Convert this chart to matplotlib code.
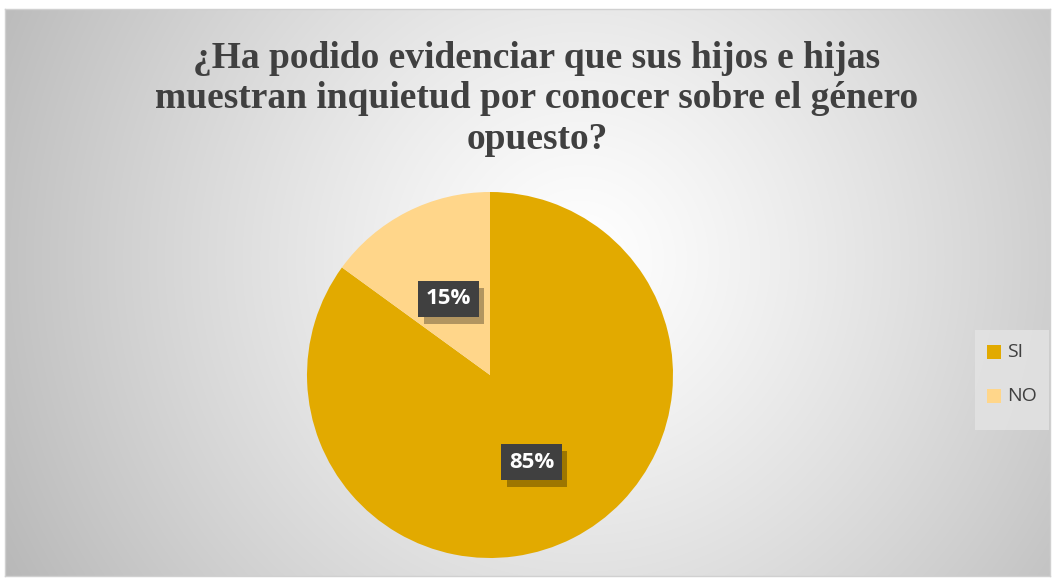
import numpy as np
import matplotlib
matplotlib.use("Agg")
import matplotlib.pyplot as plt
import matplotlib.patheffects as pe
from matplotlib.patches import Rectangle

categories = ["SI", "NO"]
values = [85, 15]
labels = ["85%", "15%"]
colors = ["#E2AA00", "#FFD68A"]
title = "¿Ha podido evidenciar que sus hijos e hijas\nmuestran inquietud por conocer sobre el género\nopuesto?"

W, H = 1054, 580
fig = plt.figure(figsize=(W / 100, H / 100), dpi=100)
fig.patch.set_facecolor("white")

# background chart area with radial gradient
x0, y0, x1, y1 = 5, 9, 1050, 576
bg = fig.add_axes([x0 / W, 1 - y1 / H, (x1 - x0) / W, (y1 - y0) / H])
bw, bh = x1 - x0, y1 - y0
yy, xx = np.mgrid[0:bh, 0:bw]
cx, cy = 580 - x0, 260 - y0
d = np.sqrt((xx - cx) ** 2 + (yy - cy) ** 2) / 600.0
d = np.clip(d, 0, 1.1)
g = 1.0 - 0.25 * d ** 1.2
img = np.dstack([g, g, g])
bg.imshow(img, aspect="auto", extent=[0, bw, bh, 0], interpolation="bilinear")
bg.set_xlim(0, bw)
bg.set_ylim(bh, 0)
bg.set_xticks([])
bg.set_yticks([])
for s in bg.spines.values():
    s.set_color("#d0d0d0")
    s.set_linewidth(1)

fig.text(537 / W, 1 - 99 / H, title, ha="center", va="center",
         fontsize=27, fontweight="bold", family="Liberation Serif",
         color="#404040", linespacing=1.2)

# pie
R = 183
pcx, pcy = 490, 375
ax = fig.add_axes([(pcx - R) / W, 1 - (pcy + R) / H, 2 * R / W, 2 * R / H])
wedges, _ = ax.pie(values, colors=colors, startangle=90, counterclock=False,
                   radius=1.0, wedgeprops=dict(linewidth=0))
ax.set_xlim(-1, 1)
ax.set_ylim(-1, 1)
ax.set_aspect("equal")

start = 90.0
total = sum(values)
for v, lab in zip(values, labels):
    ang = np.deg2rad(start - 360 * v / total / 2)
    start -= 360 * v / total
    r = 0.5
    px, py = r * np.cos(ang), r * np.sin(ang) - 0.03
    t = ax.text(px, py, lab, ha="center", va="center", fontsize=16,
                fontweight="bold", family="Open Sans", color="white",
                bbox=dict(boxstyle="square,pad=0.35", facecolor="#404040", edgecolor="none"))
    t.get_bbox_patch().set_path_effects(
        [pe.SimplePatchShadow(offset=(4, -5), shadow_rgbFace="black", alpha=0.3), pe.Normal()])

# legend box
leg_ax = fig.add_axes([0, 0, 1, 1], facecolor="none")
leg_ax.set_xlim(0, W)
leg_ax.set_ylim(H, 0)
leg_ax.axis("off")
leg_ax.add_patch(Rectangle((975, 330), 74, 100, facecolor="#e4e4e4", edgecolor="none", alpha=0.8))
for i, (c, name) in enumerate(zip(colors, categories)):
    yc = 352 + i * 44
    leg_ax.add_patch(Rectangle((987, yc - 7), 14, 14, facecolor=c, edgecolor="none"))
    leg_ax.text(1007, yc, name, ha="left", va="center", fontsize=14,
                family="Open Sans", color="#404040")

fig.savefig("out.png", dpi=100)
